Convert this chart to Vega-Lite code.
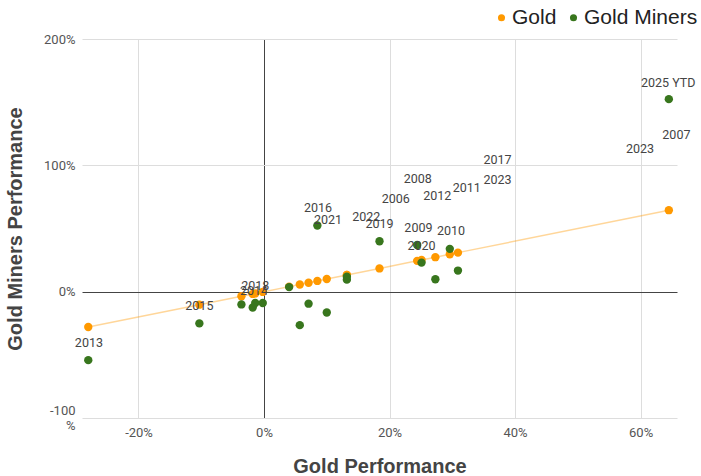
{
  "$schema": "https://vega.github.io/schema/vega-lite/v6.json",
  "width": 595,
  "height": 379,
  "autosize": "none",
  "padding": {"left": 82, "top": 39, "right": 24, "bottom": 58},
  "config": {
    "font": "Roboto",
    "view": {"stroke": null},
    "axis": {
      "domain": false,
      "ticks": false,
      "labelFontSize": 13,
      "labelColor": "#555555",
      "titleFont": "Liberation Sans",
      "titleFontSize": 20,
      "titleFontWeight": "bold",
      "titleColor": "#444444",
      "gridColor": {"condition": {"test": "datum.value === 0", "value": "#444444"}, "value": "#dddddd"},
      "gridWidth": 1
    }
  },
  "datasets": {
    "years": [
      {"year": "2006", "gold": 4.0, "miners": 3.6},
      {"year": "2007", "gold": 30.9, "miners": 16.7},
      {"year": "2008", "gold": 5.7, "miners": -26.5},
      {"year": "2009", "gold": 24.4, "miners": 37.0},
      {"year": "2010", "gold": 29.6, "miners": 33.9},
      {"year": "2011", "gold": 10.0, "miners": -16.5},
      {"year": "2012", "gold": 7.1, "miners": -9.5},
      {"year": "2013", "gold": -28.0, "miners": -54.2},
      {"year": "2014", "gold": -1.8, "miners": -12.5},
      {"year": "2015", "gold": -10.3, "miners": -25.1},
      {"year": "2016", "gold": 8.5, "miners": 52.4},
      {"year": "2017", "gold": 13.2, "miners": 11.9},
      {"year": "2018", "gold": -1.4, "miners": -9.0},
      {"year": "2019", "gold": 18.4, "miners": 39.9},
      {"year": "2020", "gold": 25.1, "miners": 23.0},
      {"year": "2021", "gold": -3.6, "miners": -10.1},
      {"year": "2022", "gold": -0.2, "miners": -9.0},
      {"year": "2023", "gold": 13.2, "miners": 9.5},
      {"year": "2024", "gold": 27.3, "miners": 9.8},
      {"year": "2025 YTD", "gold": 64.5, "miners": 152.4}
    ],
    "labels": [
      {"text": "2025 YTD", "lx": 64.4, "ly": 165.3},
      {"text": "2007", "lx": 65.7, "ly": 123.8},
      {"text": "2023", "lx": 59.9, "ly": 113.3},
      {"text": "2017", "lx": 37.2, "ly": 104.5},
      {"text": "2023", "lx": 37.2, "ly": 88.7},
      {"text": "2008", "lx": 24.5, "ly": 89.4},
      {"text": "2011", "lx": 32.3, "ly": 82.0},
      {"text": "2012", "lx": 27.6, "ly": 75.6},
      {"text": "2006", "lx": 21.0, "ly": 73.6},
      {"text": "2016", "lx": 8.6, "ly": 66.4},
      {"text": "2021", "lx": 10.2, "ly": 57.1},
      {"text": "2022", "lx": 16.3, "ly": 59.0},
      {"text": "2019", "lx": 18.4, "ly": 53.7},
      {"text": "2009", "lx": 24.6, "ly": 50.6},
      {"text": "2010", "lx": 29.8, "ly": 47.9},
      {"text": "2020", "lx": 25.1, "ly": 36.5},
      {"text": "2014", "lx": -1.6, "ly": 0.8},
      {"text": "2018", "lx": -1.4, "ly": 4.8},
      {"text": "2015", "lx": -10.3, "ly": -11.6},
      {"text": "2013", "lx": -27.9, "ly": -40.7}
    ]
  },
  "layer": [
    {
      "data": {"name": "years"},
      "mark": {"type": "line", "color": "#ff9900", "opacity": 0.4, "strokeWidth": 1.5},
      "encoding": {
        "x": {
          "field": "gold",
          "type": "quantitative",
          "scale": {"domain": [-29, 65.8], "nice": false, "zero": false},
          "axis": {
            "values": [-20, 0, 20, 40, 60],
            "labelExpr": "datum.value + '%'",
            "labelPadding": 8,
            "title": "Gold Performance",
            "titlePadding": 17
          }
        },
        "y": {
          "field": "gold",
          "type": "quantitative",
          "scale": {"domain": [-100, 200], "nice": false},
          "axis": {
            "values": [-100, 0, 100, 200],
            "labelExpr": "datum.value === -100 ? ['-100', '%'] : datum.value + '%'",
            "labelOffset": {"condition": {"test": "datum.value === -100", "value": -8}, "value": 0},
            "labelPadding": 7,
            "title": "Gold Miners Performance",
            "titlePadding": 18
          }
        },
        "order": {"field": "gold", "type": "quantitative"}
      }
    },
    {
      "data": {"name": "years"},
      "mark": {"type": "circle", "size": 70, "opacity": 1},
      "encoding": {
        "x": {"field": "gold", "type": "quantitative"},
        "y": {"field": "gold", "type": "quantitative"},
        "color": {
          "datum": "Gold",
          "type": "nominal",
          "scale": {"domain": ["Gold", "Gold Miners"], "range": ["#ff9900", "#38761d"]},
          "legend": {
            "title": null,
            "orient": "none",
            "direction": "horizontal",
            "legendX": 409,
            "legendY": -32,
            "symbolType": "circle",
            "symbolSize": 50,
            "symbolStrokeWidth": 0,
            "labelFont": "Liberation Sans",
            "labelFontSize": 21,
            "labelColor": "#222222",
            "labelOffset": 0,
            "columnPadding": 6
          }
        }
      }
    },
    {
      "data": {"name": "years"},
      "mark": {"type": "circle", "size": 70, "opacity": 1},
      "encoding": {
        "x": {"field": "gold", "type": "quantitative"},
        "y": {"field": "miners", "type": "quantitative"},
        "color": {"datum": "Gold Miners", "type": "nominal"}
      }
    },
    {
      "data": {"name": "labels"},
      "mark": {"type": "text", "fontSize": 12.5, "color": "#444444", "baseline": "middle", "align": "center"},
      "encoding": {
        "x": {"field": "lx", "type": "quantitative"},
        "y": {"field": "ly", "type": "quantitative"},
        "text": {"field": "text"}
      }
    }
  ]
}
